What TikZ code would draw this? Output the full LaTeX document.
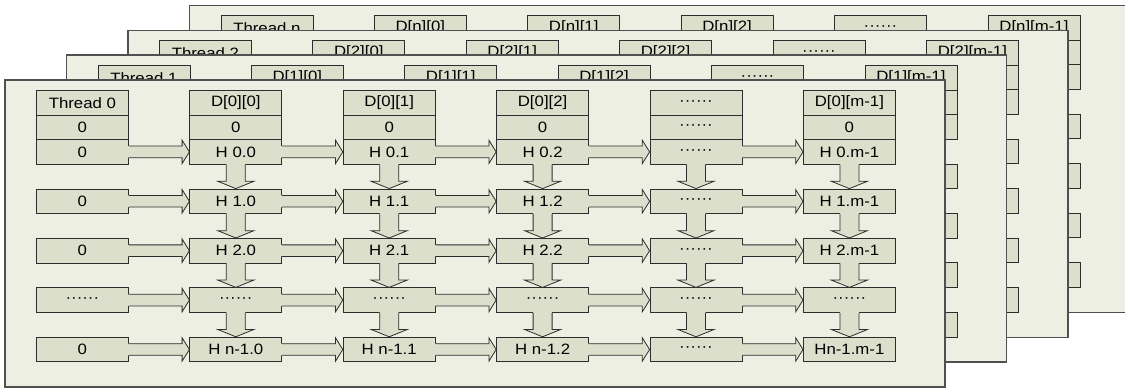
\documentclass[tikz,border=0pt]{standalone}
\usepackage{fontspec}
\setmainfont{Liberation Sans}
\usepackage{graphicx}
\usetikzlibrary{calc}
\definecolor{panelbg}{RGB}{238,239,227}
\definecolor{cellfill}{RGB}{220,223,203}
\definecolor{edgecol}{RGB}{45,45,45}
\definecolor{paneledge}{RGB}{80,80,80}
\newcommand{\celltxt}[1]{\scalebox{1.12}[1]{#1}}
\newcommand{\dts}{······}
\tikzset{
  panel/.style={fill=panelbg, draw=paneledge, line width=1.3pt},
  cell/.style={rectangle, fill=cellfill, draw=edgecol, line width=0.8pt,
    minimum width=92pt, minimum height=24.6pt, inner sep=0pt,
    anchor=north west, font=\fontsize{15}{15}\selectfont},
  arrfill/.style={fill=cellfill},
  arrline/.style={draw=edgecol, line width=0.8pt, line join=miter},
}
% horizontal block arrow from node #1 to node #2
\newcommand{\harr}[2]{%
  \path[arrfill] let \p1=(#1.east), \p2=(#2.west) in
    (\x1-1pt,\y1+5.8pt) -- (\x2-7.3pt,\y1+5.8pt) -- (\x2-7.3pt,\y1+11.7pt)
    -- (\x2,\y1) -- (\x2-7.3pt,\y1-11.7pt) -- (\x2-7.3pt,\y1-5.8pt)
    -- (\x1-1pt,\y1-5.8pt) -- cycle;
  \draw[arrline] let \p1=(#1.east), \p2=(#2.west) in
    (\x1,\y1+5.8pt) -- (\x2-7.3pt,\y1+5.8pt) -- (\x2-7.3pt,\y1+11.7pt)
    -- (\x2,\y1) -- (\x2-7.3pt,\y1-11.7pt) -- (\x2-7.3pt,\y1-5.8pt)
    -- (\x1,\y1-5.8pt);
}
% vertical block arrow from node #1 down to node #2
\newcommand{\varr}[2]{%
  \path[arrfill] let \p1=(#1.south), \p2=(#2.north) in
    (\x1-9.5pt,\y1+1pt) -- (\x1-9.5pt,\y2+7.3pt) -- (\x1-18pt,\y2+7.3pt)
    -- (\x1,\y2) -- (\x1+18pt,\y2+7.3pt) -- (\x1+9.5pt,\y2+7.3pt)
    -- (\x1+9.5pt,\y1+1pt) -- cycle;
  \draw[arrline] let \p1=(#1.south), \p2=(#2.north) in
    (\x1-9.5pt,\y1) -- (\x1-9.5pt,\y2+7.3pt) -- (\x1-18pt,\y2+7.3pt)
    -- (\x1,\y2) -- (\x1+18pt,\y2+7.3pt) -- (\x1+9.5pt,\y2+7.3pt)
    -- (\x1+9.5pt,\y1);
}
% one thread layer: #1 name prefix, #2 thread label, #3 dx, #4 dy, #5 front (1) or back (0)
\newcommand{\drawlayer}[5]{%
  \begin{scope}[shift={(#3,#4)}]
    \draw[panel] (5,80) rectangle (945,387);
    \foreach \c/\t in {0/{Thread #2},1/{D[#2][0]},2/{D[#2][1]},3/{D[#2][2]},4/{\dts},5/{D[#2][m-1]}}{
      \node[cell] (#1-h-\c) at ({36+153.4*\c},90) {\celltxt{\t}};
    }
    \foreach \c/\t in {0/0,1/0,2/0,3/0,4/{\dts},5/0}{
      \node[cell] (#1-z-\c) at ({36+153.4*\c},114.6) {\ifnum#5=1 \celltxt{\t}\fi};
    }
    \foreach \r/\yy/\ta/\tb/\tc/\td/\te/\tf in {
      0/139.2/0/{H 0.0}/{H 0.1}/{H 0.2}/{\dts}/{H 0.m-1},
      1/188.6/0/{H 1.0}/{H 1.1}/{H 1.2}/{\dts}/{H 1.m-1},
      2/238/0/{H 2.0}/{H 2.1}/{H 2.2}/{\dts}/{H 2.m-1},
      3/287.4/{\dts}/{\dts}/{\dts}/{\dts}/{\dts}/{\dts},
      4/336.8/0/{H n-1.0}/{H n-1.1}/{H n-1.2}/{\dts}/{Hn-1.m-1}}{
      \node[cell] (#1-r\r-0) at (36,\yy) {\ifnum#5=1 \celltxt{\ta}\fi};
      \node[cell] (#1-r\r-1) at (189.4,\yy) {\ifnum#5=1 \celltxt{\tb}\fi};
      \node[cell] (#1-r\r-2) at (342.8,\yy) {\ifnum#5=1 \celltxt{\tc}\fi};
      \node[cell] (#1-r\r-3) at (496.2,\yy) {\ifnum#5=1 \celltxt{\td}\fi};
      \node[cell] (#1-r\r-4) at (649.6,\yy) {\ifnum#5=1 \celltxt{\te}\fi};
      \node[cell] (#1-r\r-5) at (803,\yy) {\ifnum#5=1 \celltxt{\tf}\fi};
    }
  \end{scope}
  \foreach \r in {0,...,4}{
    \foreach \c in {0,...,4}{
      \pgfmathtruncatemacro{\nc}{\c+1}
      \harr{#1-r\r-\c}{#1-r\r-\nc}
    }
  }
  \foreach \r in {0,...,3}{
    \pgfmathtruncatemacro{\nr}{\r+1}
    \foreach \c in {1,...,5}{
      \varr{#1-r\r-\c}{#1-r\nr-\c}
    }
  }
}
\begin{document}
\begin{tikzpicture}[x=1pt,y=-1pt]
  \useasboundingbox (0,0) rectangle (1125,390);
  \clip (0,0) rectangle (1125,390);
  \fill[white] (0,0) rectangle (1125,390);
  \drawlayer{Ln}{n}{184.5}{-74.7}{0}
  \drawlayer{L2}{2}{123}{-49.8}{0}
  \drawlayer{L1}{1}{61.5}{-24.9}{0}
  \drawlayer{L0}{0}{0}{0}{1}
\end{tikzpicture}
\end{document}
